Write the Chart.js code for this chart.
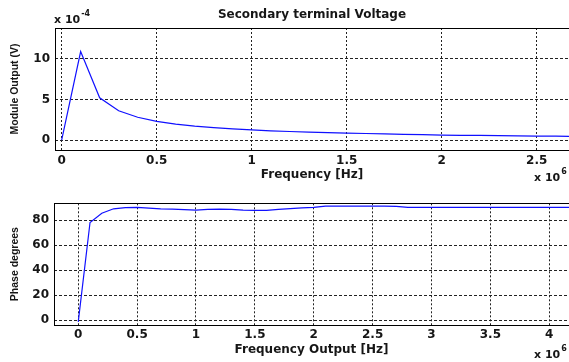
<!DOCTYPE html>
<html>
<head>
<meta charset="utf-8">
<script src="https://cdn.jsdelivr.net/npm/chart.js@4/dist/chart.umd.min.js"></script>
<style>
  html, body { margin: 0; padding: 0; background: #fff; }
  #wrap { position: relative; width: 569px; height: 362px; overflow: hidden; background: #fff; }
  #c1 { position: absolute; left: 0; top: 0; }
  #c2 { position: absolute; left: 0; top: 190px; }
</style>
</head>
<body>
<div id="wrap">
  <canvas id="c1" width="569" height="190"></canvas>
  <canvas id="c2" width="569" height="172"></canvas>
</div>
<script>
// ---------- data (frequency in units of 1e6 Hz) ----------
const magFreq = [0, 0.1, 0.2, 0.3, 0.4, 0.5, 0.6, 0.7, 0.8, 0.9, 1.0, 1.1, 1.2, 1.3, 1.4,
                 1.5, 1.6, 1.7, 1.8, 1.9, 2.0, 2.1, 2.2, 2.3, 2.4, 2.5, 2.6, 2.7];
// module output in units of 1e-4 V
const magValues = [0, 10.9, 5.2, 3.6, 2.8, 2.3, 1.95, 1.7, 1.52, 1.38, 1.25, 1.13, 1.05, 0.97, 0.9,
                   0.84, 0.8, 0.75, 0.7, 0.66, 0.6, 0.58, 0.56, 0.54, 0.52, 0.49, 0.47, 0.45];

const phaseFreq = [0, 0.1, 0.2, 0.3, 0.4, 0.5, 0.6, 0.7, 0.8, 0.9, 1.0, 1.1, 1.2, 1.3, 1.4,
                   1.5, 1.6, 1.7, 1.8, 1.9, 2.0, 2.1, 2.2, 2.3, 2.4, 2.5, 2.6, 2.7, 2.8, 2.9,
                   3.0, 3.1, 3.2, 3.3, 3.4, 3.5, 3.6, 3.7, 3.8, 3.9, 4.0, 4.1, 4.2];
// phase in degrees
const phaseValues = [-1.5, 78, 85.5, 89, 90, 90.2, 89.5, 89, 88.8, 88.3, 88, 88.5, 88.8, 88.6, 88,
                     87.8, 87.8, 88.5, 89.2, 89.8, 90.2, 91.2, 91.2, 91.2, 91.2, 91.2, 91.2, 91, 90.2, 90.2,
                     90.1, 90.1, 90.1, 90.1, 90.1, 90.1, 90.1, 90.1, 90.1, 90.1, 90.1, 90.1, 90.1];

const magXTicks = [0, 0.5, 1, 1.5, 2, 2.5];
const magYTicks = [0, 5, 10];
const phaseXTicks = [0, 0.5, 1, 1.5, 2, 2.5, 3, 3.5, 4];
const phaseYTicks = [0, 20, 40, 60, 80];

// ---------- styling helpers ----------
const TXT = '#161616';
const tickFont = { family: 'DejaVu Sans', size: 12, weight: 'bold' };
const yTitleFont = { family: 'Liberation Sans', size: 10.5, weight: 'bold' };

function fixedTicks(arr) {
  return function (scale) { scale.ticks = arr.map(v => ({ value: v })); };
}

const boxPlugin = {
  id: 'box',
  afterDraw(chart, args, opts) {
    const { ctx, chartArea: a } = chart;
    ctx.save();
    ctx.strokeStyle = '#000';
    ctx.lineWidth = 1;
    ctx.setLineDash([]);
    ctx.strokeRect(Math.round(a.left) + 0.5, Math.round(a.top) + 0.5,
                   Math.round(a.right - a.left) + 2, Math.round(a.bottom - a.top));
    ctx.restore();
    // exponent annotations
    ctx.save();
    ctx.fillStyle = TXT;
    ctx.textBaseline = 'alphabetic';
    ctx.textAlign = 'left';
    (opts.labels || []).forEach(l => {
      ctx.font = 'bold 11px "DejaVu Sans"';
      ctx.fillText(l.base, l.x, l.y);
      const w = ctx.measureText(l.base).width;
      ctx.font = 'bold 8px "DejaVu Sans"';
      ctx.fillText(l.exp, l.x + w + 1, l.y - 7);
    });
    ctx.restore();
  }
};

function makeChart(canvas, cfg) {
  return new Chart(canvas, {
    type: 'line',
    data: {
      datasets: [{
        data: cfg.xs.map((x, i) => ({ x: x, y: cfg.ys[i] })),
        borderColor: '#1010ff',
        borderWidth: 1.2,
        pointRadius: 0,
        tension: 0,
        fill: false
      }]
    },
    options: {
      responsive: false,
      animation: false,
      devicePixelRatio: 1,
      layout: { padding: { left: 0, right: 0, top: cfg.padTop, bottom: 0 } },
      plugins: {
        legend: { display: false },
        tooltip: { enabled: false },
        title: cfg.title ? {
          display: true,
          text: cfg.title,
          fullSize: false,
          color: TXT,
          font: { family: 'DejaVu Sans', size: 12, weight: 'bold' },
          padding: { top: 8, bottom: 5.6 }
        } : { display: false },
        box: { labels: cfg.expLabels }
      },
      scales: {
        x: {
          type: 'linear',
          min: cfg.xmin, max: cfg.xmax,
          afterBuildTicks: fixedTicks(cfg.xTicks),
          afterFit: s => { s.height = cfg.xAxisH; },
          grid: { color: '#222', lineWidth: 1, drawTicks: false },
          border: { display: false, dash: [2, 2] },
          ticks: { font: tickFont, color: TXT, padding: cfg.xTickPad, maxRotation: 0, autoSkip: false,
                   callback: v => String(v) },
          title: { display: true, text: cfg.xTitle, color: TXT,
                   font: { family: 'DejaVu Sans', size: 12, weight: 'bold' },
                   padding: { top: 0, bottom: cfg.xTitlePad } }
        },
        y: {
          type: 'linear',
          min: cfg.ymin, max: cfg.ymax,
          afterBuildTicks: fixedTicks(cfg.yTicks),
          afterFit: s => { s.width = cfg.yAxisW; },
          grid: { color: '#222', lineWidth: 1, drawTicks: false },
          border: { display: false, dash: [3, 2] },
          ticks: { font: tickFont, color: TXT, padding: 5, autoSkip: false,
                   callback: v => String(v) },
          title: { display: true, text: cfg.yTitle, color: TXT, font: yTitleFont,
                   padding: { top: 8.7, bottom: 0 } }
        }
      }
    },
    plugins: [boxPlugin]
  });
}

makeChart(document.getElementById('c1'), {
  xs: magFreq, ys: magValues,
  title: 'Secondary terminal Voltage',
  padTop: 0,
  xmin: -0.035, xmax: 2.67, ymin: -1.23, ymax: 13.8,
  xTicks: magXTicks, yTicks: magYTicks,
  xAxisH: 40, yAxisW: 55, xTickPad: 3.3, xTitlePad: 8.1,
  xTitle: 'Frequency [Hz]', yTitle: 'Module Output (V)',
  expLabels: [
    { base: 'x 10', exp: '-4', x: 54, y: 22.5 },
    { base: 'x 10', exp: '6', x: 534, y: 180.5 }
  ]
});

makeChart(document.getElementById('c2'), {
  xs: phaseFreq, ys: phaseValues,
  title: null,
  padTop: 13.3,
  xmin: -0.206, xmax: 4.168, ymin: -4, ymax: 93.4,
  xTicks: phaseXTicks, yTicks: phaseYTicks,
  xAxisH: 37, yAxisW: 54, xTickPad: 2.6, xTitlePad: 5.4,
  xTitle: 'Frequency Output [Hz]', yTitle: 'Phase degrees',
  expLabels: [
    { base: 'x 10', exp: '6', x: 534, y: 168.3 }
  ]
});
</script>
</body>
</html>
